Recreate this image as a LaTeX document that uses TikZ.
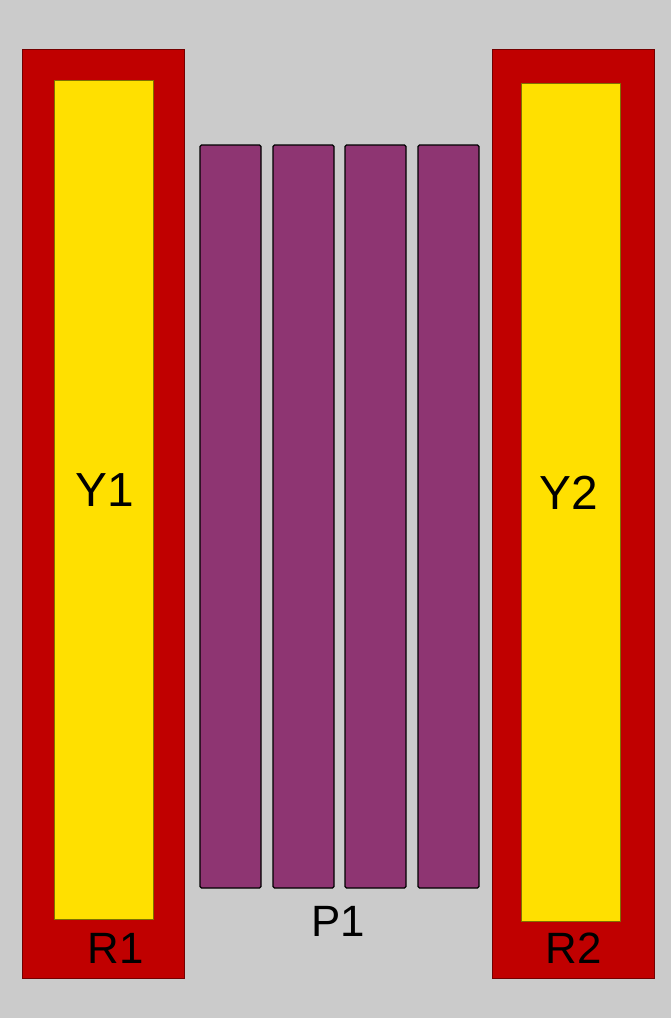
\documentclass[tikz,border=0pt]{standalone}
\usepackage{fontspec}
\setmainfont{Liberation Sans}
\definecolor{bg}{HTML}{CBCBCB}
\definecolor{redc}{HTML}{C00000}
\definecolor{yel}{HTML}{FFE000}
\definecolor{pur}{HTML}{8E3572}
\begin{document}
\begin{tikzpicture}[x=1bp,y=-1bp,
  redbox/.style={fill=redc,draw=redc!60!black,line width=0.8bp},
  yelbox/.style={fill=yel,draw=yel!50!black,line width=0.6bp},
  purbox/.style={fill=pur,draw=black,line width=1.2bp,rounded corners=1.5bp},
  lbl/.style={font=\fontsize{44}{44}\selectfont,text=black,inner sep=0pt}]
\fill[bg] (0,0) rectangle (671,1018);
\useasboundingbox (0,0) rectangle (671,1018);
\draw[redbox] (22,49) rectangle (184,978);
\draw[yelbox] (54,80) rectangle (153,919);
\draw[redbox] (492,49) rectangle (654,978);
\draw[yelbox] (521,83) rectangle (620,921);
\foreach \x in {200,273,345,418}{
  \draw[purbox] (\x,145) rectangle ++(61,743);
}
\node[lbl,font=\fontsize{48}{48}\selectfont] (y1) at (105,490) {Y1};
\node[lbl,font=\fontsize{48}{48}\selectfont] (y2) at (569,493) {Y2};
\node[lbl] (r1) at (116,948) {R1};
\node[lbl] (r2) at (574,948) {R2};
\node[lbl] (p1) at (338,921) {P1};
\end{tikzpicture}
\end{document}
